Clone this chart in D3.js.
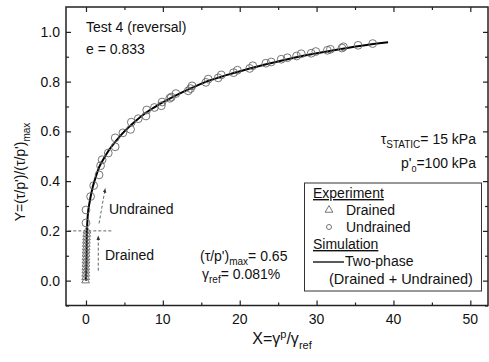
<!DOCTYPE html>
<html><head><meta charset="utf-8">
<script src="https://cdn.jsdelivr.net/npm/d3@7"></script>
<style>body{margin:0;background:#fff}svg{display:block;font-family:"Liberation Sans",Arial,sans-serif}</style>
</head><body><svg id="c" width="489" height="362"></svg>
<script>
// Drained experiment (triangles)
const drainedX = [-0.05,-0.04,-0.03,-0.02,-0.02,-0.01,0,0,0.01,0.02,0.03,0.04,0.05,0.07,0.09,0.12];
const drainedY = [0,0.013,0.027,0.04,0.053,0.067,0.08,0.093,0.107,0.12,0.133,0.147,0.16,0.173,0.187,0.2];
// Undrained experiment (circles)
const undrainedX = [0,0,0.6,1.0,1.7,1.9,2.1,2.9,3.8,3.8,4.8,5.8,5.9,6.8,7.8,7.9,8.9,9.8,9.9,10.9,11.1,11.7,13.3,13.6,13.8,15.6,15.9,17.2,17.6,19.2,19.7,21.3,21.7,23.4,24.1,25.4,26.2,27.4,28.0,29.3,29.9,31.4,31.8,33.3,33.5,35.4,37.3];
const undrainedY = [0.232,0.284,0.338,0.382,0.425,0.462,0.486,0.513,0.538,0.574,0.594,0.608,0.637,0.651,0.662,0.686,0.696,0.703,0.718,0.733,0.738,0.752,0.763,0.772,0.783,0.797,0.81,0.815,0.827,0.836,0.846,0.853,0.864,0.874,0.879,0.89,0.896,0.903,0.912,0.914,0.921,0.926,0.93,0.935,0.94,0.946,0.953];
// Simulation (two-phase)
const simX = [0,0.05,0.08,0.1,0.13,0.22,0.5,0.87,1.3,1.73,2.3,3.0,4.0,5.0,6.3,7.8,9.5,11.7,14,16.1,18.5,21.3,24,26.5,30.4,33,35.6,39.3];
const simY = [0,0.05,0.1,0.15,0.2,0.257,0.32,0.375,0.42,0.457,0.49,0.525,0.565,0.6,0.638,0.675,0.708,0.745,0.778,0.805,0.828,0.853,0.874,0.892,0.916,0.93,0.943,0.958];
const xTicks = [0,10,20,30,40,50];
const xMinor = [5,15,25,35,45];
const yTicks = [0.0,0.2,0.4,0.6,0.8,1.0];
const yMinor = [-0.1,0.1,0.3,0.5,0.7,0.9];

const svg = d3.select("#c");
const L=66,R=488,T=7,B=305.5;
const x = d3.scaleLinear().domain([-2.6,52.3]).range([L,R]);
const y = d3.scaleLinear().domain([-0.1,1.1]).range([B,T]);
const axC="#222";

svg.append("rect").attr("x",L).attr("y",T).attr("width",R-L).attr("height",B-T)
  .attr("fill","none").attr("stroke",axC).attr("stroke-width",1.5);

function ticks(axis, vals, len, pos){
  axis.tickValues(vals).tickSize(len).tickFormat("");
  const g=svg.append("g").attr("transform",pos).call(axis);
  g.select(".domain").remove();
  g.selectAll("line").attr("stroke",axC).attr("stroke-width",1.2);
}
ticks(d3.axisTop(x),xTicks,5,`translate(0,${B})`);
ticks(d3.axisTop(x),xMinor,3,`translate(0,${B})`);
ticks(d3.axisBottom(x),xTicks,5,`translate(0,${T})`);
ticks(d3.axisBottom(x),xMinor,3,`translate(0,${T})`);
ticks(d3.axisRight(y),yTicks,5,`translate(${L},0)`);
ticks(d3.axisRight(y),yMinor,3,`translate(${L},0)`);
ticks(d3.axisLeft(y),yTicks,5,`translate(${R},0)`);
ticks(d3.axisLeft(y),yMinor,3,`translate(${R},0)`);

svg.append("g").selectAll("text").data(xTicks).join("text")
  .attr("x",d=>x(d)).attr("y",B+18).attr("text-anchor","middle")
  .attr("font-size",14).attr("fill","#111").text(d=>d);
svg.append("g").selectAll("text").data(yTicks).join("text")
  .attr("x",L-6).attr("y",d=>y(d)+5).attr("text-anchor","end")
  .attr("font-size",14).attr("fill","#111").text(d=>d3.format(".1f")(d));

const xt=svg.append("text").attr("x",282).attr("y",344).attr("text-anchor","middle").attr("font-size",16).attr("fill","#111");
xt.append("tspan").text("X=γ");
xt.append("tspan").attr("dy",-6).attr("font-size",11).text("p");
xt.append("tspan").attr("dy",6).text("/γ");
xt.append("tspan").attr("dy",5).attr("font-size",11).text("ref");
const yt=svg.append("text").attr("transform","translate(25,172) rotate(-90)").attr("text-anchor","middle").attr("font-size",14).attr("fill","#111");
yt.append("tspan").text("Y=(τ/p')/(τ/p')");
yt.append("tspan").attr("dy",5).attr("font-size",10).text("max");

svg.append("defs").append("marker").attr("id","ah").attr("viewBox","0 0 10 10")
  .attr("refX",9).attr("refY",5).attr("markerWidth",5).attr("markerHeight",6).attr("orient","auto")
  .append("path").attr("d","M0,1 L10,5 L0,9 Z").attr("fill","#333");
const dash = (x1,y1,x2,y2,arrow)=>{
  const l=svg.append("line").attr("x1",x(x1)).attr("y1",y(y1)).attr("x2",x(x2)).attr("y2",y(y2))
    .attr("stroke","#555").attr("stroke-width",0.9).attr("stroke-dasharray","3,2");
  if(arrow) l.attr("marker-end","url(#ah)");
};
dash(-2.3,0.2,3.4,0.2,false);
dash(1.6,0.04,1.6,0.18,true);
dash(1.7,0.23,2.5,0.37,true);

svg.append("path").datum(simX.map((d,i)=>[d,simY[i]]))
  .attr("d",d3.line().x(d=>x(d[0])).y(d=>y(d[1])).curve(d3.curveMonotoneX))
  .attr("fill","none").attr("stroke","#000").attr("stroke-width",2);

const mk="#666";
const tri = d3.symbol().type(d3.symbolTriangle).size(26);
svg.append("g").selectAll("path").data(drainedX.map((d,i)=>[d,drainedY[i]])).join("path")
  .attr("d",tri).attr("transform",d=>`translate(${x(d[0])},${y(d[1])})`)
  .attr("fill","none").attr("stroke",mk).attr("stroke-width",0.9);
svg.append("g").selectAll("circle").data(undrainedX.map((d,i)=>[d,undrainedY[i]])).join("circle")
  .attr("cx",d=>x(d[0])).attr("cy",d=>y(d[1])).attr("r",3.9)
  .attr("fill","none").attr("stroke",mk).attr("stroke-width",0.9);

const FS=14;
const txt=(tx,ty,s,anchor)=>svg.append("text").attr("x",tx).attr("y",ty).attr("font-size",FS).attr("fill","#111").attr("text-anchor",anchor||"start").text(s);
txt(86,32,"Test 4 (reversal)");
txt(86,54,"e = 0.833");
txt(109,214,"Undrained");
txt(105,260,"Drained");
let t=svg.append("text").attr("x",476).attr("y",144).attr("font-size",FS).attr("fill","#111").attr("text-anchor","end");
t.append("tspan").text("τ");
t.append("tspan").attr("dy",4).attr("font-size",10).text("STATIC");
t.append("tspan").attr("dy",-4).text("= 15 kPa");
t=svg.append("text").attr("x",476).attr("y",168).attr("font-size",FS).attr("fill","#111").attr("text-anchor","end");
t.append("tspan").text("p'");
t.append("tspan").attr("dy",4).attr("font-size",9).text("0");
t.append("tspan").attr("dy",-4).text("=100 kPa");
t=svg.append("text").attr("x",200).attr("y",261).attr("font-size",FS).attr("fill","#111");
t.append("tspan").text("(τ/p')");
t.append("tspan").attr("dy",4).attr("font-size",10).text("max");
t.append("tspan").attr("dy",-4).text("= 0.65");
t=svg.append("text").attr("x",202).attr("y",279).attr("font-size",FS).attr("fill","#111");
t.append("tspan").text("γ");
t.append("tspan").attr("dy",4).attr("font-size",10).text("ref");
t.append("tspan").attr("dy",-4).text("= 0.081%");

svg.append("rect").attr("x",304.5).attr("y",183).attr("width",177).attr("height",108)
  .attr("fill","#fff").attr("stroke","#333").attr("stroke-width",1);
txt(313,198,"Experiment").attr("text-decoration","underline");
svg.append("path").attr("d",tri).attr("transform","translate(329,210)").attr("fill","none").attr("stroke",mk).attr("stroke-width",0.9);
txt(346,215,"Drained");
svg.append("circle").attr("cx",329).attr("cy",227).attr("r",2.5).attr("fill","none").attr("stroke",mk).attr("stroke-width",0.9);
txt(346,232,"Undrained");
txt(313,249,"Simulation").attr("text-decoration","underline");
svg.append("line").attr("x1",313).attr("x2",344).attr("y1",262).attr("y2",262).attr("stroke","#000").attr("stroke-width",1.3);
txt(345,266,"Two-phase");
txt(329,284,"(Drained + Undrained)").attr("font-size",14.5);
</script></body></html>
